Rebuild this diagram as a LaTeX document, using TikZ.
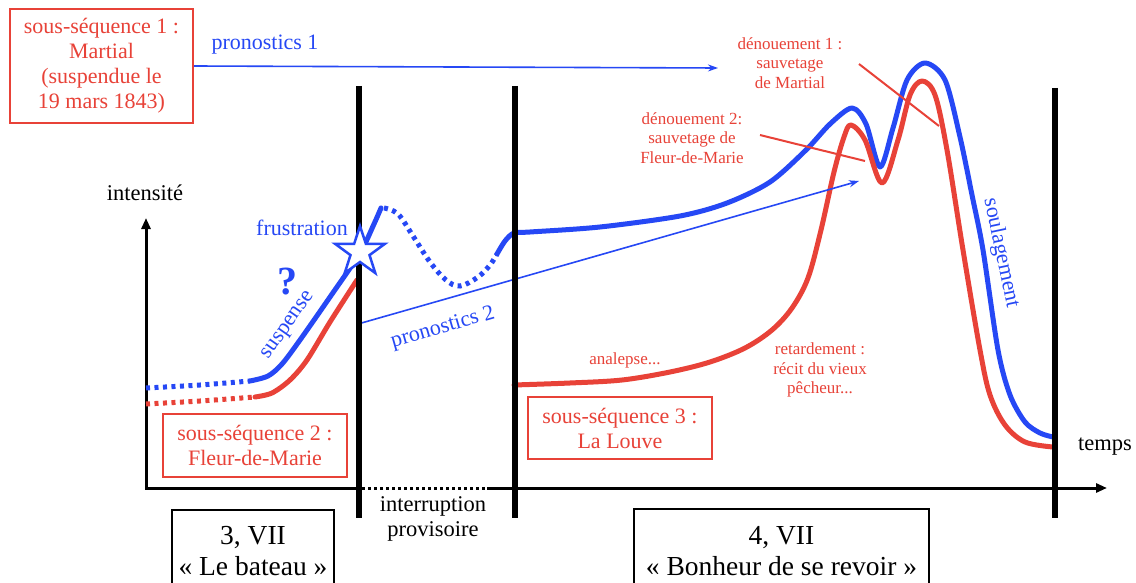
\documentclass[tikz,border=0pt]{standalone}
\usepackage{fontspec}
\setmainfont{Liberation Serif}
\usetikzlibrary{arrows.meta,shapes.geometric}
\definecolor{myblue}{RGB}{38,72,245}
\definecolor{myred}{RGB}{232,66,56}
\begin{document}
\begin{tikzpicture}[x=1pt,y=-1pt,
  bluecurve/.style={draw=myblue,line width=5pt,line cap=round,line join=round},
  redcurve/.style={draw=myred,line width=5pt,line cap=round,line join=round},
  bluedots/.style={draw=myblue,line width=5pt,dash pattern=on 4pt off 4.5pt},
  reddots/.style={draw=myred,line width=5pt,dash pattern=on 4pt off 4.5pt},
  redbox/.style={draw=myred,line width=2pt,text=myred,align=center,font=\fontsize{22}{25}\selectfont,inner sep=0pt},
  blackbox/.style={draw=black,line width=1.6pt,align=center,font=\fontsize{27.5}{31}\selectfont,inner sep=0pt},
  redlbl/.style={text=myred,align=center,font=\fontsize{17}{19.5}\selectfont,inner sep=0pt},
  bluelbl/.style={text=myblue,align=center,font=\fontsize{22}{25}\selectfont,inner sep=0pt},
  blacklbl/.style={text=black,align=center,font=\fontsize{22.5}{25}\selectfont,inner sep=0pt},
  thinarrow/.style={draw=myblue,line width=1.6pt,-{Stealth[length=10pt,width=7pt]}},
  pointer/.style={draw=myred,line width=2pt},
  bar/.style={draw=black,line width=6pt}
]
\clip (0,0) rectangle (1136,583);
\fill[white] (0,0) rectangle (1136,583);

% text nodes
\node[redbox,minimum width=183pt,minimum height=114pt] (s1) at (101.5,66) {sous-séquence 1 :\\Martial\\(suspendue le\\19 mars 1843)};
\node[redbox,minimum width=184pt,minimum height=63pt] (s2) at (255,445.5) {sous-séquence 2 :\\Fleur-de-Marie};
\node[redbox,minimum width=184pt,minimum height=62pt] (s3) at (620,428) {sous-séquence 3 :\\La Louve};
\node[blackbox,minimum width=162pt,minimum height=82pt] (c3) at (253,551) {3, VII\\« Le bateau »};
\node[blackbox,minimum width=295pt,minimum height=84pt] (c4) at (781.5,551) {4, VII\\« Bonheur de se revoir »};
\node[blacklbl] (interr) at (433,519) {interruption\\provisoire};
\node[blacklbl] (yl) at (145,193) {intensité};
\node[blacklbl] (xl) at (1105,447) {temps};
\node[bluelbl] (p1) at (265,45) {pronostics 1};
\node[bluelbl] (frus) at (302,228) {frustration};
\node[bluelbl,font=\fontsize{40}{40}\selectfont\bfseries] (q) at (287,282) {?};
\node[bluelbl,rotate=55] (susp) at (289,326) {suspense};
\node[bluelbl,rotate=16] (p2) at (443,328) {pronostics 2};
\node[bluelbl,rotate=-78] (soul) at (1001,253) {soulagement};
\node[redlbl] (d1) at (790,63) {dénouement 1 :\\sauvetage\\de Martial};
\node[redlbl] (d2) at (692,138) {dénouement 2:\\sauvetage de\\Fleur-de-Marie};
\node[redlbl] (ana) at (625,360) {analepse...};
\node[redlbl] (ret) at (820,370) {retardement :\\récit du vieux\\pêcheur...};

% coordinates
\coordinate (p1end) at (718,68);
\coordinate (p2start) at (358,324);
\coordinate (p2end) at (859,181);
\coordinate (d1a) at (859,64);
\coordinate (d1b) at (939,126);
\coordinate (d2a) at (760,135);
\coordinate (d2b) at (865,161);
\coordinate (o) at (146,488);
\coordinate (ytip) at (146,218);
\coordinate (xtip) at (1107,488);
\coordinate (g1) at (362,488);
\coordinate (g2) at (487,488);

% axes
\draw[line width=3pt,{Triangle[length=11pt,width=9pt]}-] (ytip) -- (o) -- (g1);
\draw[line width=3pt,dash pattern=on 3pt off 3pt] (g1) -- (g2);
\draw[line width=3pt,-{Triangle[length=11pt,width=9pt]}] (g2) -- (xtip);

% curves
\draw[bluedots] plot[smooth] coordinates {(146,388) (200,385) (250,381)};
\draw[reddots] plot[smooth] coordinates {(146,404) (200,401) (255,397)};
\draw[bluecurve] plot[smooth,tension=0.5] coordinates {(250,381) (268,376) (282,364) (300,340) (330,297) (360,253) (374,224) (381,208)};
\draw[bluedots] plot[smooth,tension=0.6] coordinates {(384,208) (398,214) (413,236) (430,262) (446,280) (460,286) (478,277) (490,265) (497,254)};
\draw[bluecurve] plot[smooth,tension=0.5] coordinates {(497,254) (505,241) (514,233) (530,232) (600,227) (680,216) (727,203) (770,182) (806,150) (830,124) (852,108) (866,124) (880,167) (893,128) (907,80) (925,63) (945,80) (960,137) (972,195) (983,250) (998,350) (1010,395) (1025,422) (1040,433) (1053,437)};
\draw[redcurve] plot[smooth,tension=0.5] coordinates {(255,397) (272,393) (290,380) (307,360) (330,322) (357,280)};
\draw[redcurve] plot[smooth,tension=0.55] coordinates {(514,385) (570,383) (622,380) (670,372) (710,362) (745,348) (772,330) (792,308) (808,278) (821,230) (834,172) (844,137) (851,125) (865,140) (882,183) (898,140) (910,95) (922,81) (935,95) (947,150) (963,250) (980,350) (990,395) (1005,425) (1025,442) (1053,447)};

% connectors
\draw[thinarrow] (s1.east) -- (p1end);
\draw[thinarrow] (p2start) -- (p2end);
\draw[pointer] (d1a) -- (d1b);
\draw[pointer] (d2a) -- (d2b);

% bars
\draw[bar] (359,86) -- (359,518);
\draw[bar] (515,86) -- (515,518);
\draw[bar] (1055,88) -- (1055,518);

% star
\node[star,star points=5,star point ratio=2.6,minimum size=52pt,draw=myblue,fill=white,line width=2.5pt,inner sep=0pt] (st) at (360,252) {};
\end{tikzpicture}
\end{document}
